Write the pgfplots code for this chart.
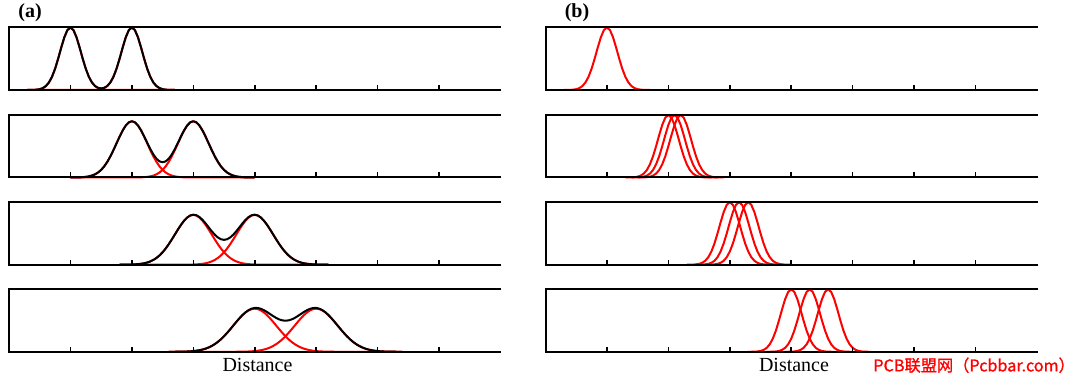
\documentclass[border=0pt]{standalone}
\usepackage{pgfplots}
\usepackage{pgfplotstable}
\pgfplotsset{compat=1.18}
\usepackage{fontspec}
\setmainfont{Liberation Serif}
\newfontfamily\cjk[FakeBold=1.2]{Noto Sans CJK SC}

% narrow peaks (panel b and a1): value v at x = centre + offset
\pgfplotstableread{
v c10 c20 c21 c22 c30 c315 c33 c40 c43 c46
.0002 0.30 1.30 1.40 1.50 2.30 2.45 2.60 3.30 3.60 3.90
.0007 0.35 1.35 1.45 1.55 2.35 2.50 2.65 3.35 3.65 3.95
.0020 0.40 1.40 1.50 1.60 2.40 2.55 2.70 3.40 3.70 4.00
.0053 0.45 1.45 1.55 1.65 2.45 2.60 2.75 3.45 3.75 4.05
.0132 0.50 1.50 1.60 1.70 2.50 2.65 2.80 3.50 3.80 4.10
.0301 0.55 1.55 1.65 1.75 2.55 2.70 2.85 3.55 3.85 4.15
.0628 0.60 1.60 1.70 1.80 2.60 2.75 2.90 3.60 3.90 4.20
.1201 0.65 1.65 1.75 1.85 2.65 2.80 2.95 3.65 3.95 4.25
.2108 0.70 1.70 1.80 1.90 2.70 2.85 3.00 3.70 4.00 4.30
.3392 0.75 1.75 1.85 1.95 2.75 2.90 3.05 3.75 4.05 4.35
.5006 0.80 1.80 1.90 2.00 2.80 2.95 3.10 3.80 4.10 4.40
.6776 0.85 1.85 1.95 2.05 2.85 3.00 3.15 3.85 4.15 4.45
.8411 0.90 1.90 2.00 2.10 2.90 3.05 3.20 3.90 4.20 4.50
.9577 0.95 1.95 2.05 2.15 2.95 3.10 3.25 3.95 4.25 4.55
1.000 1.00 2.00 2.10 2.20 3.00 3.15 3.30 4.00 4.30 4.60
.9577 1.05 2.05 2.15 2.25 3.05 3.20 3.35 4.05 4.35 4.65
.8411 1.10 2.10 2.20 2.30 3.10 3.25 3.40 4.10 4.40 4.70
.6776 1.15 2.15 2.25 2.35 3.15 3.30 3.45 4.15 4.45 4.75
.5006 1.20 2.20 2.30 2.40 3.20 3.35 3.50 4.20 4.50 4.80
.3392 1.25 2.25 2.35 2.45 3.25 3.40 3.55 4.25 4.55 4.85
.2108 1.30 2.30 2.40 2.50 3.30 3.45 3.60 4.30 4.60 4.90
.1201 1.35 2.35 2.45 2.55 3.35 3.50 3.65 4.35 4.65 4.95
.0628 1.40 2.40 2.50 2.60 3.40 3.55 3.70 4.40 4.70 5.00
.0301 1.45 2.45 2.55 2.65 3.45 3.60 3.75 4.45 4.75 5.05
.0132 1.50 2.50 2.60 2.70 3.50 3.65 3.80 4.50 4.80 5.10
.0053 1.55 2.55 2.65 2.75 3.55 3.70 3.85 4.55 4.85 5.15
.0020 1.60 2.60 2.70 2.80 3.60 3.75 3.90 4.60 4.90 5.20
.0007 1.65 2.65 2.75 2.85 3.65 3.80 3.95 4.65 4.95 5.25
.0002 1.70 2.70 2.80 2.90 3.70 3.85 4.00 4.70 5.00 5.30
}\narrow

\pgfplotstableread{
x r1 r2 s
0.30 .0002 0 .0002
0.35 .0007 0 .0007
0.40 .0020 0 .0020
0.45 .0053 0 .0053
0.50 .0132 0 .0132
0.55 .0301 0 .0301
0.60 .0628 0 .0628
0.65 .1201 0 .1201
0.70 .2108 0 .2108
0.75 .3392 0 .3392
0.80 .5006 0 .5006
0.85 .6776 0 .6776
0.90 .8411 0 .8411
0.95 .9577 0 .9577
1.00 1 0 1
1.05 .9577 0 .9577
1.10 .8411 0 .8411
1.15 .6776 0 .6776
1.20 .5006 0 .5006
1.25 .3392 0 .3392
1.30 .2108 .0002 .2110
1.35 .1201 .0007 .1208
1.40 .0628 .0020 .0648
1.45 .0301 .0053 .0354
1.50 .0132 .0132 .0264
1.55 .0053 .0301 .0354
1.60 .0020 .0628 .0648
1.65 .0007 .1201 .1208
1.70 .0002 .2108 .2110
1.75 0 .3392 .3392
1.80 0 .5006 .5006
1.85 0 .6776 .6776
1.90 0 .8411 .8411
1.95 0 .9577 .9577
2.00 0 1 1
2.05 0 .9577 .9577
2.10 0 .8411 .8411
2.15 0 .6776 .6776
2.20 0 .5006 .5006
2.25 0 .3392 .3392
2.30 0 .2108 .2108
2.35 0 .1201 .1201
2.40 0 .0628 .0628
2.45 0 .0301 .0301
2.50 0 .0132 .0132
2.55 0 .0053 .0053
2.60 0 .0020 .0020
2.65 0 .0007 .0007
2.70 0 .0002 .0002
}\taA

\pgfplotstableread{
x r1 r2 s
1.00 .0003 0 .0003
1.05 .0007 0 .0007
1.10 .0014 0 .0014
1.15 .0028 0 .0028
1.20 .0054 0 .0054
1.25 .0100 0 .0100
1.30 .0179 0 .0179
1.35 .0306 0 .0306
1.40 .0505 0 .0505
1.45 .0800 0 .0800
1.50 .1218 0 .1218
1.55 .1781 0 .1781
1.60 .2502 0 .2502
1.65 .3378 0 .3378
1.70 .4381 0 .4381
1.75 .5459 0 .5459
1.80 .6535 0 .6535
1.85 .7517 0 .7517
1.90 .8308 0 .8308
1.95 .8822 0 .8822
2.00 .9000 .0003 .9003
2.05 .8822 .0007 .8829
2.10 .8308 .0014 .8322
2.15 .7517 .0028 .7545
2.20 .6535 .0054 .6589
2.25 .5459 .0100 .5559
2.30 .4381 .0179 .4560
2.35 .3378 .0306 .3684
2.40 .2502 .0505 .3007
2.45 .1781 .0800 .2581
2.50 .1218 .1218 .2436
2.55 .0800 .1781 .2581
2.60 .0505 .2502 .3007
2.65 .0306 .3378 .3684
2.70 .0179 .4381 .4560
2.75 .0100 .5459 .5559
2.80 .0054 .6535 .6589
2.85 .0028 .7517 .7545
2.90 .0014 .8308 .8322
2.95 .0007 .8822 .8829
3.00 .0003 .9000 .9003
3.05 0 .8822 .8822
3.10 0 .8308 .8308
3.15 0 .7517 .7517
3.20 0 .6535 .6535
3.25 0 .5459 .5459
3.30 0 .4381 .4381
3.35 0 .3378 .3378
3.40 0 .2502 .2502
3.45 0 .1781 .1781
3.50 0 .1218 .1218
3.55 0 .0800 .0800
3.60 0 .0505 .0505
3.65 0 .0306 .0306
3.70 0 .0179 .0179
3.75 0 .0100 .0100
3.80 0 .0054 .0054
3.85 0 .0028 .0028
3.90 0 .0014 .0014
3.95 0 .0007 .0007
4.00 0 .0003 .0003
}\taB

\pgfplotstableread{
x r1 r2 s
1.80 .0003 0 .0003
1.85 .0005 0 .0005
1.90 .0010 0 .0010
1.95 .0017 0 .0017
2.00 .0031 0 .0031
2.05 .0053 0 .0053
2.10 .0089 0 .0089
2.15 .0144 0 .0144
2.20 .0228 0 .0228
2.25 .0350 0 .0350
2.30 .0524 0 .0524
2.35 .0762 0 .0762
2.40 .1079 0 .1079
2.45 .1485 0 .1485
2.50 .1987 0 .1987
2.55 .2587 0 .2587
2.60 .3277 0 .3277
2.65 .4035 0 .4035
2.70 .4834 0 .4834
2.75 .5632 0 .5632
2.80 .6382 .0003 .6385
2.85 .7034 .0005 .7039
2.90 .7539 .0010 .7549
2.95 .7860 .0017 .7877
3.00 .7970 .0031 .8001
3.05 .7860 .0053 .7913
3.10 .7539 .0089 .7628
3.15 .7034 .0144 .7178
3.20 .6382 .0228 .6610
3.25 .5632 .0350 .5982
3.30 .4834 .0524 .5358
3.35 .4035 .0762 .4797
3.40 .3277 .1079 .4356
3.45 .2587 .1485 .4072
3.50 .1987 .1987 .3974
3.55 .1485 .2587 .4072
3.60 .1079 .3277 .4356
3.65 .0762 .4035 .4797
3.70 .0524 .4834 .5358
3.75 .0350 .5632 .5982
3.80 .0228 .6382 .6610
3.85 .0144 .7034 .7178
3.90 .0089 .7539 .7628
3.95 .0053 .7860 .7913
4.00 .0031 .7970 .8001
4.05 .0017 .7860 .7877
4.10 .0010 .7539 .7549
4.15 .0005 .7034 .7039
4.20 .0003 .6382 .6385
4.25 0 .5632 .5632
4.30 0 .4834 .4834
4.35 0 .4035 .4035
4.40 0 .3277 .3277
4.45 0 .2587 .2587
4.50 0 .1987 .1987
4.55 0 .1485 .1485
4.60 0 .1079 .1079
4.65 0 .0762 .0762
4.70 0 .0524 .0524
4.75 0 .0350 .0350
4.80 0 .0228 .0228
4.85 0 .0144 .0144
4.90 0 .0089 .0089
4.95 0 .0053 .0053
5.00 0 .0031 .0031
5.05 0 .0017 .0017
5.10 0 .0010 .0010
5.15 0 .0005 .0005
5.20 0 .0003 .0003
}\taC

\pgfplotstableread{
x r1 r2 s
2.60 .0002 0 .0002
2.65 .0004 0 .0004
2.70 .0007 0 .0007
2.75 .0012 0 .0012
2.80 .0019 0 .0019
2.85 .0031 0 .0031
2.90 .0049 0 .0049
2.95 .0077 0 .0077
3.00 .0116 0 .0116
3.05 .0173 0 .0173
3.10 .0253 0 .0253
3.15 .0361 0 .0361
3.20 .0506 0 .0506
3.25 .0695 0 .0695
3.30 .0934 0 .0934
3.35 .1230 0 .1230
3.40 .1587 0 .1587
3.45 .2007 0 .2007
3.50 .2487 0 .2487
3.55 .3019 0 .3019
3.60 .3591 .0002 .3593
3.65 .4185 .0004 .4189
3.70 .4779 .0007 .4786
3.75 .5346 .0012 .5358
3.80 .5861 .0019 .5880
3.85 .6295 .0031 .6326
3.90 .6624 .0049 .6673
3.95 .6830 .0077 .6907
4.00 .6900 .0116 .7016
4.05 .6830 .0173 .7003
4.10 .6624 .0253 .6877
4.15 .6295 .0361 .6656
4.20 .5861 .0506 .6367
4.25 .5346 .0695 .6041
4.30 .4779 .0934 .5713
4.35 .4185 .1230 .5415
4.40 .3591 .1587 .5178
4.45 .3019 .2007 .5026
4.50 .2487 .2487 .4974
4.55 .2007 .3019 .5026
4.60 .1587 .3591 .5178
4.65 .1230 .4185 .5415
4.70 .0934 .4779 .5713
4.75 .0695 .5346 .6041
4.80 .0506 .5861 .6367
4.85 .0361 .6295 .6656
4.90 .0253 .6624 .6877
4.95 .0173 .6830 .7003
5.00 .0116 .6900 .7016
5.05 .0077 .6830 .6907
5.10 .0049 .6624 .6673
5.15 .0031 .6295 .6326
5.20 .0019 .5861 .5880
5.25 .0012 .5346 .5358
5.30 .0007 .4779 .4786
5.35 .0004 .4185 .4189
5.40 .0002 .3591 .3593
5.45 0 .3019 .3019
5.50 0 .2487 .2487
5.55 0 .2007 .2007
5.60 0 .1587 .1587
5.65 0 .1230 .1230
5.70 0 .0934 .0934
5.75 0 .0695 .0695
5.80 0 .0506 .0506
5.85 0 .0361 .0361
5.90 0 .0253 .0253
5.95 0 .0173 .0173
6.00 0 .0116 .0116
6.05 0 .0077 .0077
6.10 0 .0049 .0049
6.15 0 .0031 .0031
6.20 0 .0019 .0019
6.25 0 .0012 .0012
6.30 0 .0007 .0007
6.35 0 .0004 .0004
6.40 0 .0002 .0002
}\taD

\pgfplotsset{
  panel/.style={
    scale only axis, width=491.5pt, height=62.5pt, anchor=south west,
    xmin=0, xmax=8, ymin=0, ymax=1,
    axis x line*=box, axis y line*=left,
    xtick={1,2,3,4,5,6,7}, xticklabels={}, ytick=\empty,
    xtick pos=left, tick align=inside, major tick length=5pt,
    every tick/.style={black, line width=1.6pt},
    axis line style={black, line width=2pt, line cap=rect},
    axis on top, clip=false,
  },
  redc/.style={red, line width=2pt, line join=round, mark=none},
  blkc/.style={black, line width=2pt, line join=round, mark=none},
}

\begin{document}
\begin{tikzpicture}[x=1pt,y=1pt]
\path[use as bounding box] (0,0) rectangle (1080,380);

% ---------- column (a) ----------
\begin{axis}[panel, at={(9pt,290pt)}]
  \addplot[redc] table[x=x,y=r1]{\taA};
  \addplot[redc] table[x=x,y=r2]{\taA};
  \addplot[blkc] table[x=x,y=s]{\taA};
\end{axis}
\begin{axis}[panel, at={(9pt,202.5pt)}]
  \addplot[redc] table[x=x,y=r1]{\taB};
  \addplot[redc] table[x=x,y=r2]{\taB};
  \addplot[blkc] table[x=x,y=s]{\taB};
\end{axis}
\begin{axis}[panel, at={(9pt,115.3pt)}]
  \addplot[redc] table[x=x,y=r1]{\taC};
  \addplot[redc] table[x=x,y=r2]{\taC};
  \addplot[blkc] table[x=x,y=s]{\taC};
\end{axis}
\begin{axis}[panel, at={(9pt,28.2pt)}]
  \addplot[redc] table[x=x,y=r1]{\taD};
  \addplot[redc] table[x=x,y=r2]{\taD};
  \addplot[blkc] table[x=x,y=s]{\taD};
\end{axis}

% ---------- column (b) ----------
\begin{axis}[panel, at={(545.5pt,290pt)}]
  \addplot[redc] table[x=c10,y=v]{\narrow};
\end{axis}
\begin{axis}[panel, at={(545.5pt,202.5pt)}]
  \addplot[redc] table[x=c20,y=v]{\narrow};
  \addplot[redc] table[x=c21,y=v]{\narrow};
  \addplot[redc] table[x=c22,y=v]{\narrow};
\end{axis}
\begin{axis}[panel, at={(545.5pt,115.3pt)}]
  \addplot[redc] table[x=c30,y=v]{\narrow};
  \addplot[redc] table[x=c315,y=v]{\narrow};
  \addplot[redc] table[x=c33,y=v]{\narrow};
\end{axis}
\begin{axis}[panel, at={(545.5pt,28.2pt)}]
  \addplot[redc] table[x=c40,y=v]{\narrow};
  \addplot[redc] table[x=c43,y=v]{\narrow};
  \addplot[redc] table[x=c46,y=v]{\narrow};
\end{axis}

% ---------- labels ----------
\node[anchor=center, inner sep=0pt] at (30,367) {\fontsize{20}{24}\selectfont\bfseries (a)};
\node[anchor=center, inner sep=0pt] at (577,367) {\fontsize{20}{24}\selectfont\bfseries (b)};
\node[anchor=base, inner sep=0pt] at (257.5,8.3) {\fontsize{20}{24}\selectfont Distance};
\node[anchor=base, inner sep=0pt] at (794,8.3) {\fontsize{20}{24}\selectfont Distance};
\node[anchor=base east, inner sep=0pt, text=red] at (1075,8.6) {\cjk\fontsize{16.2}{19}\selectfont PCB联盟网（Pcbbar.com）};
\end{tikzpicture}
\end{document}
